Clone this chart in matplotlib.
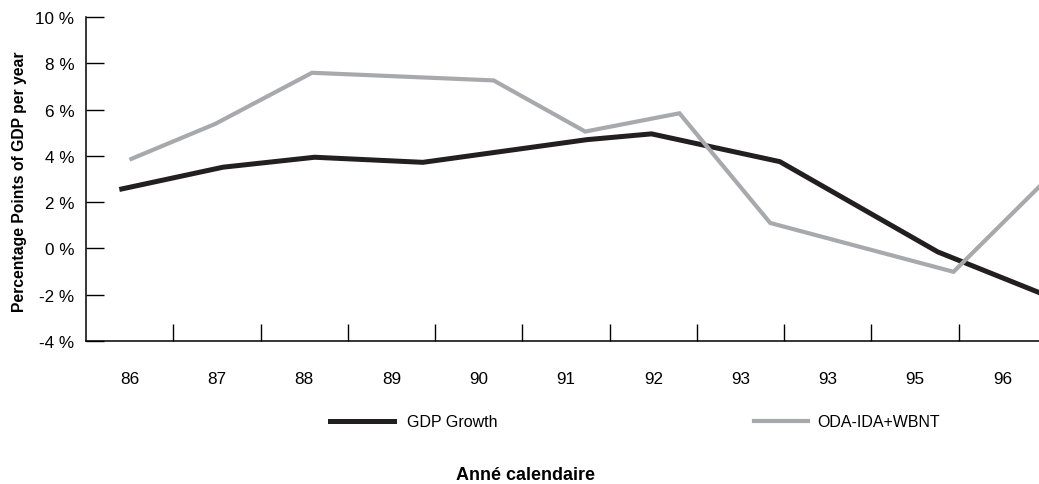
import matplotlib
matplotlib.use("Agg")
import matplotlib.pyplot as plt
from matplotlib.lines import Line2D

# Données (positions en fractions de catégorie, valeurs en %)
years = ["86", "87", "88", "89", "90", "91", "92", "93", "93", "95", "96"]

gdp_x = [-0.09, 1.07, 2.12, 3.36, 5.24, 5.98, 7.45, 9.26, 10.45]
gdp_y = [2.57, 3.51, 3.94, 3.72, 4.70, 4.95, 3.75, -0.15, -1.95]

oda_x = [0.02, 0.98, 2.09, 4.17, 5.22, 6.30, 7.34, 9.44, 10.45]
oda_y = [3.87, 5.38, 7.59, 7.26, 5.05, 5.84, 1.10, -1.01, 2.77]

yticks = [-4, -2, 0, 2, 4, 6, 8, 10]

plt.rcParams["font.family"] = ["Liberation Sans", "DejaVu Sans"]

fig = plt.figure(figsize=(10.39, 4.85), dpi=100)
ax = fig.add_axes([86 / 1039, 1 - 342 / 485, 960 / 1039, 324 / 485])

black = "#231f20"
grey = "#a7a9ac"

ax.plot(gdp_x, gdp_y, color=black, lw=3.6, solid_joinstyle="miter", label="GDP Growth")
ax.plot(oda_x, oda_y, color=grey, lw=3.0, solid_joinstyle="miter", label="ODA-IDA+WBNT")

ax.set_xlim(-0.5, len(years) - 0.5)
ax.set_ylim(-4, 10)

for s in ["top", "right"]:
    ax.spines[s].set_visible(False)
for s in ["left", "bottom"]:
    ax.spines[s].set_linewidth(1.1)
    ax.spines[s].set_color("black")

# y
ax.set_yticks(yticks)
ax.set_yticklabels([f"{v} %" for v in yticks])
ax.tick_params(axis="y", direction="in", length=13, width=1.0, pad=8.5, labelsize=12.3)

# x : traits aux frontières, étiquettes au centre
ax.set_xticks([i + 0.5 for i in range(len(years) - 1)])
ax.set_xticklabels([])
ax.set_xticks(range(len(years)), minor=True)
ax.set_xticklabels(years, minor=True)
ax.tick_params(axis="x", which="major", direction="in", length=12, width=1.0)
ax.tick_params(axis="x", which="minor", length=0, pad=21.5, labelsize=12.3)

fig.text(20 / 1039, 1 - 182 / 485, "Percentage Points of GDP per year", rotation=90,
         ha="center", va="center", fontsize=11.3, fontweight="bold")
fig.text(525 / 1039, 1 - 476 / 485, "Anné calendaire", ha="center", va="center",
         fontsize=13, fontweight="bold")

# légendes
h1 = Line2D([], [], color=black, lw=3.6)
h2 = Line2D([], [], color=grey, lw=3.0)
leg1 = ax.legend([h1], ["GDP Growth"], loc="center left", bbox_to_anchor=(330 / 1039, 1 - 423 / 485),
                 bbox_transform=fig.transFigure, frameon=False, borderpad=0, borderaxespad=0,
                 handlelength=4.0, handletextpad=0.8, fontsize=11.5)
ax.add_artist(leg1)
ax.legend([h2], ["ODA-IDA+WBNT"], loc="center left", bbox_to_anchor=(754 / 1039, 1 - 423 / 485),
          bbox_transform=fig.transFigure, frameon=False, borderpad=0, borderaxespad=0,
          handlelength=3.4, handletextpad=0.55, fontsize=11.5)

fig.savefig("out.png", dpi=100)
